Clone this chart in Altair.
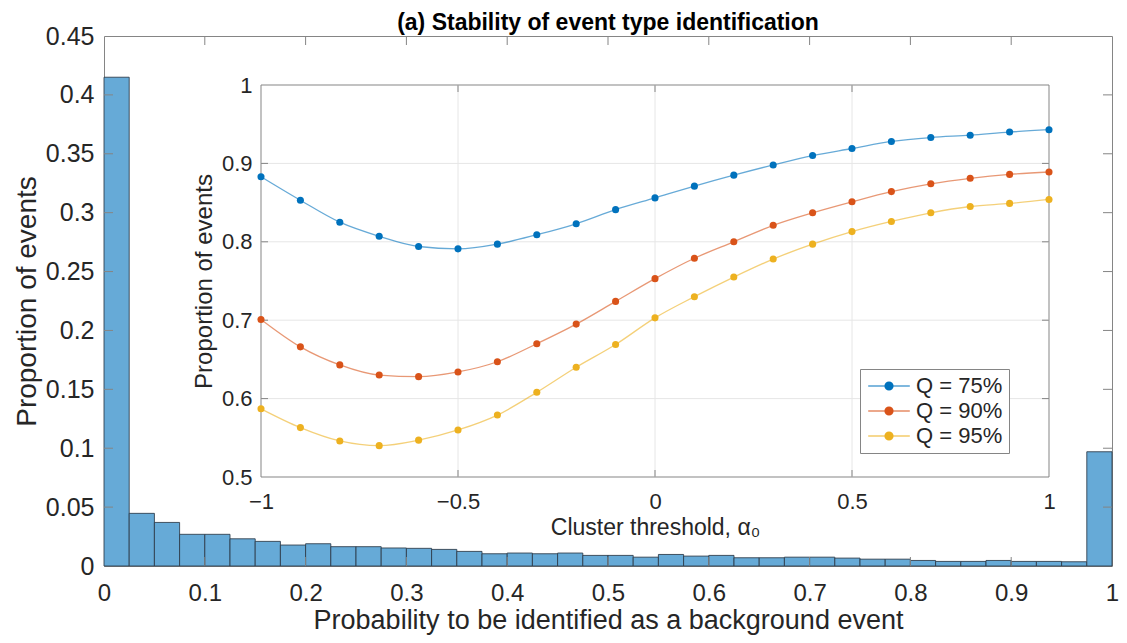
import altair as alt
import pandas as pd

# ---------------- data ----------------
# histogram: 40 bins of width 0.025 on [0, 1]
bin_lo = [i / 40 for i in range(40)]
bin_hi = [(i + 1) / 40 for i in range(40)]
proportion = [0.415, 0.0447, 0.0370, 0.0269, 0.0269, 0.0231, 0.0209, 0.0178, 0.0189, 0.0164,
              0.0164, 0.0153, 0.0150, 0.0141, 0.0124, 0.0104, 0.0110, 0.0104, 0.0110, 0.0090,
              0.0090, 0.0075, 0.0098, 0.0084, 0.0090, 0.0070, 0.0070, 0.0075, 0.0075, 0.0067,
              0.0058, 0.0058, 0.0047, 0.0039, 0.0039, 0.0047, 0.0039, 0.0039, 0.0036, 0.097]

main_xticks = [0, 0.1, 0.2, 0.3, 0.4, 0.5, 0.6, 0.7, 0.8, 0.9, 1.0]
main_yticks = [0, 0.05, 0.1, 0.15, 0.2, 0.25, 0.3, 0.35, 0.4, 0.45]

# inset: cluster threshold vs proportion
alpha0 = [-1.0, -0.9, -0.8, -0.7, -0.6, -0.5, -0.4, -0.3, -0.2, -0.1, 0.0,
          0.1, 0.2, 0.3, 0.4, 0.5, 0.6, 0.7, 0.8, 0.9, 1.0]
q75 = [0.883, 0.853, 0.825, 0.807, 0.794, 0.791, 0.797, 0.809, 0.823, 0.841, 0.856,
       0.871, 0.885, 0.898, 0.910, 0.919, 0.928, 0.933, 0.936, 0.940, 0.943]
q90 = [0.701, 0.666, 0.643, 0.630, 0.628, 0.634, 0.647, 0.670, 0.695, 0.724, 0.753,
       0.779, 0.800, 0.821, 0.837, 0.851, 0.864, 0.874, 0.881, 0.886, 0.889]
q95 = [0.587, 0.563, 0.546, 0.540, 0.547, 0.560, 0.579, 0.608, 0.640, 0.669, 0.703,
       0.730, 0.755, 0.778, 0.797, 0.813, 0.826, 0.837, 0.845, 0.849, 0.854]
series_names = ["Q = 75%", "Q = 90%", "Q = 95%"]
series_colors = ["#0072BD", "#D95319", "#EDB120"]

inset_xticks = [-1, -0.5, 0, 0.5, 1]
inset_yticks = [0.5, 0.6, 0.7, 0.8, 0.9, 1.0]

# ---------------- layout / style ----------------
W, H = 1008, 530
FONT = "Liberation Sans"
TXT = "#262626"
BOX = "#858585"

hist_df = pd.DataFrame({"lo": bin_lo, "hi": bin_hi, "p": proportion})
hist_df["base"] = 0.0
rows = []
for name, vals in zip(series_names, [q75, q90, q95]):
    for a, v in zip(alpha0, vals):
        rows.append({"a": a, "v": v, "Q": name})
line_df = pd.DataFrame(rows)

main_x = alt.Scale(domain=[0, 1], nice=False, zero=False)
main_y = alt.Scale(domain=[0, 0.45], nice=False, zero=False)

common_axis = dict(labelFont=FONT, titleFont=FONT, labelColor=TXT, titleColor=TXT,
                   ticks=False, domain=False, grid=False, labelFlush=False,
                   labelOverlap=False, titleFontWeight="normal")

bars = alt.Chart(hist_df).mark_bar(
    color="#66aad7", stroke="#2b3a48", strokeWidth=1, strokeOpacity=0.85
).encode(
    x=alt.X("lo:Q", scale=main_x,
            axis=alt.Axis(values=main_xticks, format=".1~f", orient="bottom",
                          title="Probability to be identified as a background event",
                          labelFontSize=24, titleFontSize=27, labelPadding=15,
                          titlePadding=2, **common_axis)),
    x2="hi:Q",
    y=alt.Y("p:Q", scale=main_y,
            axis=alt.Axis(values=main_yticks, format=".2~f", orient="left",
                          title="Proportion of events",
                          labelFontSize=25, titleFontSize=28, labelPadding=10,
                          titlePadding=4, **common_axis)),
    y2="base:Q",
)

ytk = pd.DataFrame({"v": main_yticks[1:-1]})
xtk = pd.DataFrame({"v": main_xticks[1:-1]})
tick_len_x = 9 / W
tick_len_y = 9 / H * 0.45
ytk["x0l"], ytk["x1l"] = 0.0, tick_len_x
ytk["x0r"], ytk["x1r"] = 1 - tick_len_x, 1.0
xtk["y0b"], xtk["y1b"] = 0.0, tick_len_y
xtk["y0t"], xtk["y1t"] = 0.45 - tick_len_y, 0.45


def hticks(df, c0, c1, sx, sy):
    return alt.Chart(df).mark_rule(color=BOX, strokeWidth=1).encode(
        y=alt.Y("v:Q", scale=sy, axis=None),
        x=alt.X(f"{c0}:Q", scale=sx, axis=None), x2=f"{c1}:Q")


def vticks(df, c0, c1, sx, sy):
    return alt.Chart(df).mark_rule(color=BOX, strokeWidth=1).encode(
        x=alt.X("v:Q", scale=sx, axis=None),
        y=alt.Y(f"{c0}:Q", scale=sy, axis=None), y2=f"{c1}:Q")


# ---------------- inset ----------------
ins_x = alt.Scale(domain=[-1, 1], range=[157, 945], nice=False, zero=False)
ins_y = alt.Scale(domain=[0.5, 1], range=[441, 49], nice=False, zero=False)
color_scale = alt.Scale(domain=series_names, range=series_colors)

bg_df = pd.DataFrame({"x0": [-1.0], "x1": [1.0], "y0": [0.5], "y1": [1.0]})
bg = alt.Chart(bg_df).mark_rect(fill="white", stroke=BOX, strokeWidth=1).encode(
    x=alt.X("x0:Q", scale=ins_x,
            axis=alt.Axis(values=inset_xticks, format=".1~f", orient="bottom",
                          offset=-(H - 441), title="Cluster threshold, α₀",
                          labelFontSize=22, titleFontSize=23, labelPadding=14,
                          titlePadding=4, zindex=1, **common_axis)),
    x2="x1:Q",
    y=alt.Y("y0:Q", scale=ins_y,
            axis=alt.Axis(values=inset_yticks, format=".1~f", orient="left",
                          offset=-157, title="Proportion of events",
                          labelFontSize=22, titleFontSize=24, labelPadding=9,
                          titlePadding=5, zindex=1, **common_axis)),
    y2="y1:Q",
)

gx = pd.DataFrame({"v": inset_xticks[1:-1]})
gx["y0"], gx["y1"] = 0.5, 1.0
gy = pd.DataFrame({"v": inset_yticks[1:-1]})
gy["x0"], gy["x1"] = -1.0, 1.0
grid_x = alt.Chart(gx).mark_rule(color="#e6e6e6", strokeWidth=1).encode(
    x=alt.X("v:Q", scale=ins_x, axis=None),
    y=alt.Y("y0:Q", scale=ins_y, axis=None), y2="y1:Q")
grid_y = alt.Chart(gy).mark_rule(color="#e6e6e6", strokeWidth=1).encode(
    y=alt.Y("v:Q", scale=ins_y, axis=None),
    x=alt.X("x0:Q", scale=ins_x, axis=None), x2="x1:Q")

itl_x = 7 / 788 * 2
itl_y = 7 / 392 * 0.5
ixt = pd.DataFrame({"v": inset_xticks[1:-1]})
ixt["y0b"], ixt["y1b"] = 0.5, 0.5 + itl_y
ixt["y0t"], ixt["y1t"] = 1.0 - itl_y, 1.0
iyt = pd.DataFrame({"v": inset_yticks[1:-1]})
iyt["x0l"], iyt["x1l"] = -1.0, -1.0 + itl_x
iyt["x0r"], iyt["x1r"] = 1.0 - itl_x, 1.0

legend_path = ("M-2.6,0H2.6"
               "M-0.5,0a0.5,0.5 0 1,0 1,0a0.5,0.5 0 1,0 -1,0"
               "M-0.36,0a0.36,0.36 0 1,0 0.72,0a0.36,0.36 0 1,0 -0.72,0"
               "M-0.22,0a0.22,0.22 0 1,0 0.44,0a0.22,0.22 0 1,0 -0.44,0"
               "M-0.09,0a0.09,0.09 0 1,0 0.18,0a0.09,0.09 0 1,0 -0.18,0")

legend = alt.Legend(
    orient="none", legendX=756, legendY=333, title=None,
    symbolType=legend_path, symbolSize=256, symbolStrokeWidth=1.2,
    symbolOpacity=1, symbolOffset=12, labelOffset=16, labelFont=FONT,
    labelFontSize=22, labelColor=TXT, padding=6, rowPadding=3,
    strokeColor=BOX, fillColor="white", cornerRadius=0,
)

lines = alt.Chart(line_df).mark_line(strokeWidth=1.3, opacity=0.6, interpolate="monotone").encode(
    x=alt.X("a:Q", scale=ins_x, axis=None),
    y=alt.Y("v:Q", scale=ins_y, axis=None),
    color=alt.Color("Q:N", scale=color_scale, legend=legend),
)
points = alt.Chart(line_df).mark_circle(size=50, opacity=1).encode(
    x=alt.X("a:Q", scale=ins_x, axis=None),
    y=alt.Y("v:Q", scale=ins_y, axis=None),
    color=alt.Color("Q:N", scale=color_scale, legend=None),
)

chart = alt.layer(
    bars,
    hticks(ytk, "x0l", "x1l", main_x, main_y),
    hticks(ytk, "x0r", "x1r", main_x, main_y),
    vticks(xtk, "y0b", "y1b", main_x, main_y),
    vticks(xtk, "y0t", "y1t", main_x, main_y),
    bg, grid_x, grid_y,
    vticks(ixt, "y0b", "y1b", ins_x, ins_y),
    vticks(ixt, "y0t", "y1t", ins_x, ins_y),
    hticks(iyt, "x0l", "x1l", ins_x, ins_y),
    hticks(iyt, "x0r", "x1r", ins_x, ins_y),
    lines, points,
).resolve_scale(
    x="independent", y="independent", color="independent"
).properties(
    width=W, height=H,
    title=alt.TitleParams("(a) Stability of event type identification", font=FONT,
                          fontSize=23, fontWeight="bold", color="#000000",
                          offset=3, dy=14, anchor="middle", frame="group"),
    padding={"left": 96, "top": 28, "right": 7, "bottom": 69},
    autosize=alt.AutoSizeParams(type="none"),
).configure_view(stroke=BOX, strokeWidth=1)

chart.save("out.html", embed_options={"renderer": "svg", "actions": False})
